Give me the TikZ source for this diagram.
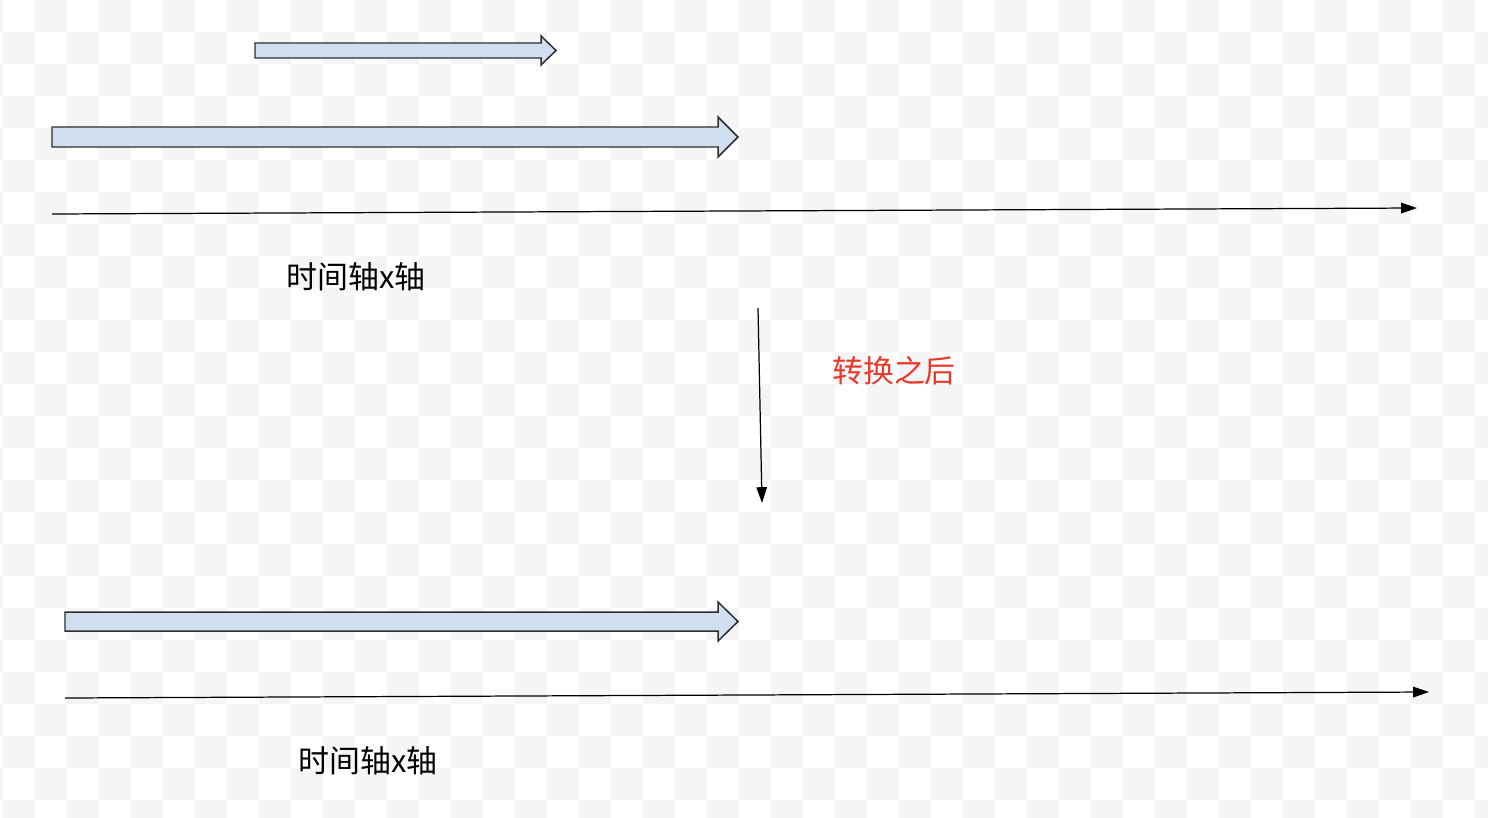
\documentclass[tikz,border=0pt]{standalone}
\usepackage{fontspec}
\newfontfamily\cjk{Noto Sans CJK SC}
\usetikzlibrary{arrows.meta}
\definecolor{checker}{RGB}{245,245,245}
\definecolor{barblue}{RGB}{208,223,240}
\definecolor{barline}{RGB}{45,45,45}
\definecolor{notered}{RGB}{232,57,42}
\tikzset{
  blockarr/.style={draw=barline,fill=barblue,line width=0.85pt,line join=miter},
  axisline/.style={line width=0.7pt,-{Triangle[length=9pt,width=6pt]}},
  axislabel/.style={font=\cjk\fontsize{17.6}{20}\selectfont,inner sep=0pt},
}
\begin{document}
\begin{tikzpicture}[x=0.02cm,y=-0.02cm]
  \useasboundingbox (0,0) rectangle (1488,818);
  % faint checkerboard background
  \begin{scope}
    \clip (0,0) rectangle (1488,818);
    \foreach \i in {0,...,47}{
      \foreach \j in {0,...,26}{
        \pgfmathtruncatemacro\k{mod(\i+\j,2)}
        \ifnum\k=0 \fill[checker] ({3+32*(\i-1)},{32*\j}) rectangle +(32,32);\fi
      }
    }
  \end{scope}
  % block arrows
  \draw[blockarr](255,43)--(541,43)--(541,36)--(556,50.5)--(541,65)--(541,58)--(255,58)--cycle;
  \draw[blockarr](52,127)--(718,127)--(718,117)--(738,137)--(718,157)--(718,147)--(52,147)--cycle;
  \draw[blockarr](65,612)--(718,612)--(718,602)--(738,621.5)--(718,641)--(718,631)--(65,631)--cycle;
  % time axes
  \coordinate (axa0) at (52,214);
  \coordinate (axa1) at (1417,208);
  \draw[axisline](axa0)--(axa1);
  \coordinate (axb0) at (65,698);
  \coordinate (axb1) at (1429,692);
  \draw[axisline](axb0)--(axb1);
  \node[axislabel] (lbla) at (356,277) {时间轴x轴};
  \node[axislabel] (lblb) at (368,761) {时间轴x轴};
  % conversion
  \coordinate (cvtop) at (758,308);
  \coordinate (cvbot) at (762,503);
  \draw[axisline](cvtop)--(cvbot);
  \node[axislabel,text=notered] (cvlbl) at (894,371) {转换之后};
\end{tikzpicture}
\end{document}
